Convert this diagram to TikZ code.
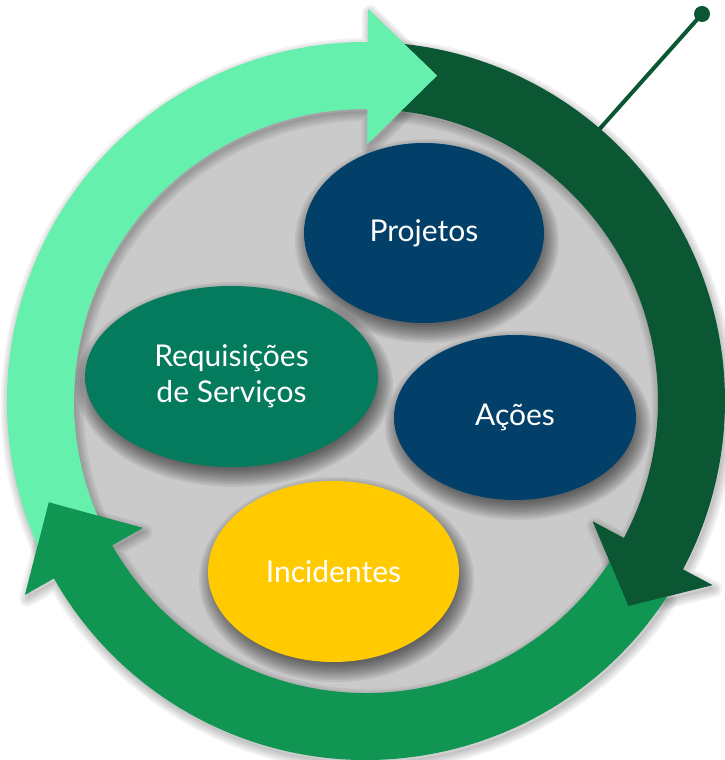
\documentclass[tikz,border=0pt]{standalone}
\usepackage{fontspec}
\setmainfont{Lato}
\usetikzlibrary{shapes.geometric}
\definecolor{lightg}{HTML}{66F0AD}
\definecolor{darkg}{HTML}{0B5733}
\definecolor{midg}{HTML}{109652}
\definecolor{navy}{HTML}{024069}
\definecolor{teal}{HTML}{037B5C}
\definecolor{gold}{HTML}{FFCB00}
\definecolor{bggray}{HTML}{CACACA}
\pgfdeclarelayer{back}
\pgfdeclarelayer{shade}
\pgfsetlayers{back,shade,main}
\tikzset{
  blob/.style={ellipse,inner sep=0pt,text=white,align=center,
    font=\fontsize{30}{36}\selectfont},
  shadestep/.style={black,opacity=0.05},
  ellstep/.style={black,opacity=0.065},
  pointer/.style={draw=darkg,line width=4pt},
  dotmark/.style={circle,fill=darkg,minimum size=16pt,inner sep=0pt}
}
% ring arrow outline: #1 start angle, #2 head base angle, #3 tip angle
\newcommand\arrowpath[3]{(#1:359) arc[start angle=#1,end angle=#2,radius=359]
    -- (#2:392) -- (#3:333) -- (#2:257) -- (#2:292)
    arc[start angle=#2,end angle=#1,radius=292] -- cycle}
\newcommand\arrowshade[3]{%
  \fill[shadestep,shift={(2,-4)}] \arrowpath{#1}{#2}{#3};
  \foreach \w in {16,12,8,4}{%
    \draw[shadestep,line width=\w pt,line join=round,shift={(2,-4)}] \arrowpath{#1}{#2}{#3};}}
\newcommand\cyclehead[3]{%
  \fill[#1] (#2:392) -- (#3:333) -- (#2:257) -- cycle;}
\newcommand\ellshade[3]{%
  \foreach \r in {12,10,8,6,4,2,0,-2,-4,-6}{%
    \fill[ellstep] ([shift={(3,-8)}]#1.center) ellipse[x radius=#2+\r, y radius=#3+\r];}}
\begin{document}
\begin{tikzpicture}[x=1pt,y=1pt]
\useasboundingbox (-366,-359) rectangle (358,401);
% background disc
\begin{pgfonlayer}{back}
\fill[bggray] (0,0) circle (293);
\end{pgfonlayer}
% pointer line with dot
\coordinate (ringpt) at (49.4:340);
\node[dotmark] (dot) at (336,387) {};
\draw[pointer] (ringpt) -- (dot.center);
% cycle arrows
\arrowshade{85}{-28}{-38}
\arrowshade{-33}{-150.4}{-162.3}
\arrowshade{206}{89.7}{77.7}
\fill[darkg] \arrowpath{85}{-28}{-38};
\fill[midg] \arrowpath{-33}{-150.4}{-162.3};
\fill[lightg] \arrowpath{206}{89.7}{77.7};
\cyclehead{darkg}{-28}{-38}
\cyclehead{midg}{-150.4}{-162.3}
\cyclehead{lightg}{89.7}{77.7}
% ellipses
\node[blob,fill=navy,minimum width=240pt,minimum height=180pt] (proj) at (58,168) {Projetos};
\node[blob,fill=teal,minimum width=293pt,minimum height=181pt] (req) at (-134.5,24.5) {Requisições\\de Serviços};
\node[blob,fill=navy,minimum width=242pt,minimum height=165pt] (acoes) at (149,-16.5) {Ações};
\node[blob,fill=gold,minimum width=251pt,minimum height=181pt] (inc) at (-32.5,-170.5) {Incidentes};
\begin{pgfonlayer}{shade}
\ellshade{proj}{120}{90}
\ellshade{req}{146.5}{90.5}
\ellshade{acoes}{121}{82.5}
\ellshade{inc}{125.5}{90.5}
\end{pgfonlayer}
\end{tikzpicture}
\end{document}
